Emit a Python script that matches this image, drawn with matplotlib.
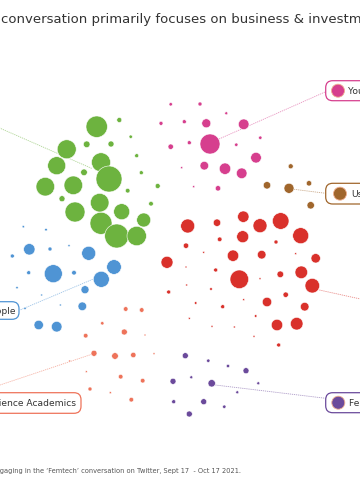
import matplotlib.pyplot as plt
from matplotlib.patches import Circle, FancyBboxPatch

# Bubble positions (x, y in picture pixels) and radii per community
green_x = [96.7, 119.3, 130.7, 86.7, 111, 66.7, 136.7, 101, 56.7, 84, 109, 141.3, 45.3, 73.3,
           127.7, 157.7, 62, 99.7, 121.7, 151, 75, 143.7, 101, 116.7, 136.7]
green_y = [126.7, 120, 136.7, 144.3, 144, 149.3, 155.7, 162.3, 165.7, 172.3, 179, 172.7, 186.7,
           185.3, 190.7, 186, 198.7, 202.7, 211.7, 203.7, 212, 220, 223.3, 236, 236]
green_r = [10.7, 2.5, 1.7, 3.3, 3, 9.5, 2, 9.5, 9, 3.3, 13, 2, 9.3, 9.3,
           2.3, 2.5, 3, 9.3, 8, 2.3, 10, 7, 11, 12, 9.7]

pink_x = [170.7, 200, 226.3, 161, 184.3, 206.3, 243.7, 210, 189.3, 236.3, 260.3, 170.7,
          256, 204.3, 225, 241.7, 181.7, 193.7, 218]
pink_y = [104.3, 104, 113.3, 123.3, 121.7, 123.3, 124.3, 144, 142.7, 144.7, 137.7, 146.7,
          157.7, 165.7, 168.7, 173.3, 167.7, 186.7, 188.3]
pink_r = [1.7, 2, 1.5, 2, 2, 4.5, 5.3, 10, 2, 1.7, 1.7, 2.7,
          5.3, 4.3, 5.7, 5.3, 1.1, 1.1, 2.7]

brown_x = [290.7, 267, 289, 309, 310.7]
brown_y = [166.3, 185.3, 188.3, 183.3, 205.3]
brown_r = [2.5, 3.7, 5, 2.7, 3.7]

red_x = [187.7, 217, 243.3, 260, 280.7, 300.7, 186, 219.7, 242.7, 276, 203.7, 233, 261.7,
         295.7, 315.7, 167, 186, 215.7, 239.3, 260, 280.3, 301.3, 312.3, 168.7, 186.7, 211,
         195.7, 222.7, 243.7, 267, 285.7, 304.7, 189.3, 212, 234.3, 255.7, 277, 296.7, 254, 278.7]
red_y = [226, 222.7, 216.7, 225.7, 221, 235.7, 245.7, 239.3, 236.7, 242, 252.3, 255.7, 254.7,
         253.7, 258.3, 262.3, 267, 270, 279.3, 278.7, 274.3, 272.3, 285.7, 292, 285, 289,
         303, 306.7, 299.7, 302, 294.7, 306.7, 318.3, 326.3, 327, 316, 325, 323.7, 336.3, 345]
red_r = [7, 3.7, 5.7, 7, 8.3, 8, 2.7, 2.3, 6, 2, 1, 5.7, 4.3,
         1, 4.7, 6, 1, 2, 9.3, 1, 3.3, 6.3, 7.3, 2, 1, 1.3,
         1.3, 2, 1, 4.7, 2.7, 4.3, 1, 1, 1, 1.3, 5.7, 6.3, 1, 2]

blue_x = [23.3, 46, 29.3, 50, 69, 12.3, 88.7, 53.3, 28.7, 74, 114, 101.3, 17, 41.7, 85,
          60.3, 25, 82.3, 38.7, 56.7]
blue_y = [226.7, 229.7, 249.3, 249, 245.7, 256, 253.3, 273.7, 272.7, 272.7, 267, 279.3,
          287.7, 295, 289.7, 305, 308.3, 306.3, 325, 326.7]
blue_r = [1.2, 1.3, 5.7, 2, 1.1, 2, 7, 9, 2, 2.3, 7.3, 8, 1.2, 1, 4, 1, 1.2, 4.3, 4.7, 5.3]

orange_x = [125.7, 141.7, 102.3, 124.3, 145, 85.7, 94, 115, 133.3, 154, 69.7, 86.3,
            120.7, 142.7, 90, 110.3, 131.3]
orange_y = [309, 310, 323.3, 332, 335, 335.7, 353.3, 356, 355, 353.7, 361, 371.7,
            376.7, 380.7, 389, 392.7, 399.7]
orange_r = [2.3, 2.3, 1.7, 3, 1, 2.3, 3, 3.3, 2.7, 1, 1, 1,
            2.3, 2.3, 2, 1.1, 2.3]

purple_x = [185.3, 208.3, 228, 246, 191.3, 173, 211.7, 258.3, 237.3, 173.7, 203.7, 224.3, 189.3]
purple_y = [355.7, 360.7, 366, 370.7, 377.3, 381.3, 383.3, 383.3, 392.3, 401.7, 401.7, 406.7, 414]
purple_r = [3, 1.7, 1.7, 3, 1.5, 3, 3.7, 1.5, 1.5, 2, 3, 1.7, 3]

green_c = '#6db33f'
pink_c = '#d63f8e'
brown_c = '#a0662c'
red_c = '#d9312b'
blue_c = '#4f94d4'
orange_c = '#ee735a'
purple_c = '#6b4a9b'

# the picture is a crop: only part of title and footer shows
title_hidden = 'The \u2018Femtech\u2019 '
title_text = 'conversation primarily focuses on business & investment'
footer_hidden = 'Accounts en'
footer_text = ('gaging in the \u2018Femtech\u2019 conversation on Twitter, '
               'Sept 17  - Oct 17 2021.')

fig = plt.figure(figsize=(3.6, 5), dpi=100)
ax = fig.add_axes([0, 0, 1, 1])
ax.set_xlim(0, 360)
ax.set_ylim(500, 0)
ax.axis('off')


def draw_group(xs, ys, rs, color):
    for x, y, r in zip(xs, ys, rs):
        ax.add_patch(Circle((x, y), r, facecolor=color, edgecolor='white', lw=0.4, zorder=3))


def draw_label(x0, y0, x1, y1, text, color, line_from, line_to, text_x, dot_x=None, ha='left'):
    # connector line
    ax.plot([line_from[0], line_to[0]], [line_from[1], line_to[1]], color=color, lw=0.6,
            ls=(0, (1.5, 1)), alpha=0.55, zorder=2)
    box = FancyBboxPatch((x0, y0), x1 - x0, y1 - y0, boxstyle='round,pad=0,rounding_size=7',
                         facecolor='white', edgecolor=color, lw=0.9, zorder=4)
    ax.add_patch(box)
    yc = (y0 + y1) / 2
    if dot_x is not None:
        ax.add_patch(Circle((dot_x, yc), 6.5, facecolor=color, edgecolor='#f0b090', lw=0.6, zorder=5))
    ax.text(text_x, yc + 0.5, text, ha=ha, va='center', fontsize=6.6, color='#333333', zorder=6)


draw_group(green_x, green_y, green_r, green_c)
draw_group(pink_x, pink_y, pink_r, pink_c)
draw_group(brown_x, brown_y, brown_r, brown_c)
draw_group(red_x, red_y, red_r, red_c)
draw_group(blue_x, blue_y, blue_r, blue_c)
draw_group(orange_x, orange_y, orange_r, orange_c)
draw_group(purple_x, purple_y, purple_r, purple_c)

# green connector heads off the left edge
ax.plot([-5, 92], [126, 168.5], color=green_c, lw=0.6, ls=(0, (1.5, 1)), alpha=0.55, zorder=2)
# red connector heads off the right edge
ax.plot([319.3, 365], [290, 300], color=red_c, lw=0.6, ls=(0, (1.5, 1)), alpha=0.55, zorder=2)

draw_label(325.7, 80.7, 420, 100.7, 'Young Women', pink_c, (219, 139), (325.7, 91.7), 348, dot_x=338)
draw_label(325.7, 183.3, 420, 204, 'Users', brown_c, (294, 189.3), (325.7, 193.3), 351, dot_x=340)
draw_label(325.7, 392.7, 420, 412.7, 'Femtech Founders', purple_c, (215.3, 385), (325.7, 398.3), 349, dot_x=338.3)
draw_label(-60, 301.7, 19, 319.3, 'People', blue_c, (92.7, 279.3), (20, 310), 15.5, ha='right')
draw_label(-60, 392.7, 81, 413.3, 'Science Academics', orange_c, (91.7, 354.3), (0, 385), 75.5, ha='right')


def cropped_text(hidden, shown, x, y, size, color):
    # place the full line so that the shown part starts at x
    probe = ax.text(0, 0, hidden, fontsize=size)
    fig.canvas.draw()
    w = probe.get_window_extent().width
    probe.remove()
    ax.text(x - w, y, hidden + shown, ha='left', va='center', fontsize=size, color=color)


cropped_text(title_hidden, title_text, 0.5, 20, 9.5, '#333333')
cropped_text(footer_hidden, footer_text, 0, 471, 4.75, '#555555')

fig.savefig('out.png', dpi=100)
